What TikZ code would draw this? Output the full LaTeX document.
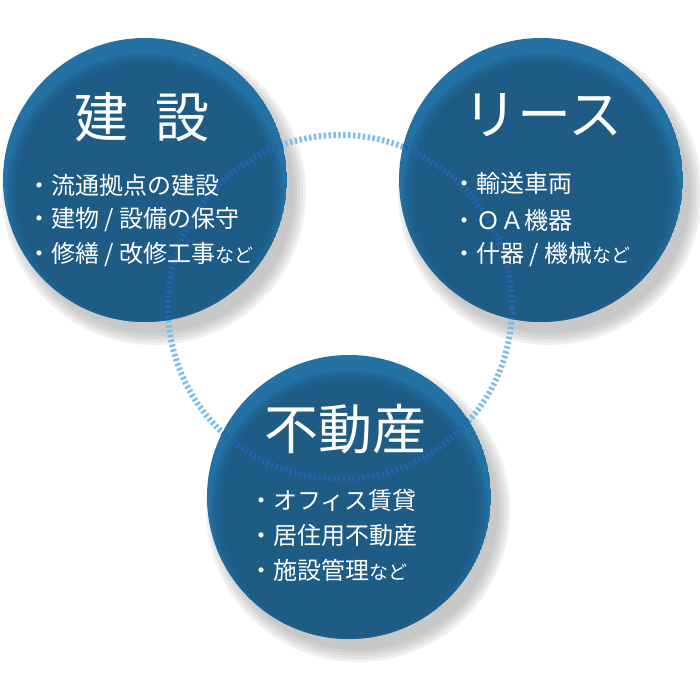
\documentclass[tikz,border=0pt]{standalone}
\usepackage{fontspec}
\newfontfamily\jp{Noto Sans CJK JP}
\definecolor{rimlt}{RGB}{36,114,163}
\definecolor{disk}{RGB}{30,91,133}
\definecolor{ringlt}{RGB}{122,190,238}
\definecolor{ringdk}{RGB}{38,98,172}
\definecolor{shd}{RGB}{160,160,160}
\newcommand\smallnado{{\fontsize{19}{19}\selectfont など}}
\begin{document}
\begin{tikzpicture}[x=1pt,y=-1pt,
  titletext/.style={text=white, font=\jp\fontsize{54}{54}\selectfont, inner sep=0pt},
  itemtext/.style={text=white, font=\jp\fontsize{24}{24}\selectfont, inner sep=0pt, anchor=west},
  ringline/.style={line width=6pt, dash pattern=on 2.4pt off 2.5pt}]
\fill[white] (0,0) rectangle (700,700);
\useasboundingbox (0,0) rectangle (700,700);
\coordinate (cA) at (145,180);
\coordinate (cB) at (541,180);
\coordinate (cC) at (349,497);
\coordinate (cR) at (340,307);
% shadows
\foreach \c in {cA,cB,cC}{
  \foreach \r in {152,149,146,143,140}{
    \fill[shd, opacity=0.15] ([shift={(9pt,-13pt)}]\c) circle (\r pt);
  }
}
% ring (outside)
\draw[ringlt, ringline] (cR) circle (172pt);
% discs
\foreach \c in {cA,cB,cC}{
  \begin{scope}
    \clip (\c) circle (142pt);
    \fill[rimlt] (\c) circle (142pt);
    \foreach \r in {138,135,132}{
      \fill[disk, opacity=0.35] ([yshift=-12pt]\c) circle (\r pt);
    }
    \fill[disk] ([yshift=-12pt]\c) circle (129pt);
  \end{scope}
}
% ring inside discs
\begin{scope}
  \clip (cA) circle (142pt) (cB) circle (142pt) (cC) circle (142pt);
  \draw[ringdk, ringline] (cR) circle (172pt);
\end{scope}
% titles
\node[titletext] (tA) at (142,117) {建\hspace{0.5em}設};
\node[titletext] (tB) at (543,115) {リース};
\node[titletext] (tC) at (345,429) {不動産};
% items
\node[itemtext] (a1) at (27,185) {・流通拠点の建設};
\node[itemtext] (a2) at (27,220) {・建物 / 設備の保守};
\node[itemtext] (a3) at (27,255) {・修繕 / 改修工事\smallnado};
\node[itemtext] (b1) at (452,183) {・輸送車両};
\node[itemtext] (b2) at (452,220) {・ＯＡ機器};
\node[itemtext] (b3) at (452,255) {・什器 / 機械\smallnado};
\node[itemtext] (c1) at (249,500) {・オフィス賃貸};
\node[itemtext] (c2) at (249,535) {・居住用不動産};
\node[itemtext] (c3) at (249,570) {・施設管理\smallnado};
\end{tikzpicture}
\end{document}
